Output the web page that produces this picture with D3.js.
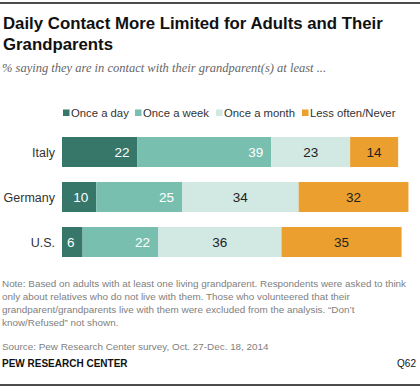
<!DOCTYPE html>
<html>
<head>
<meta charset="utf-8">
<script src="https://cdnjs.cloudflare.com/ajax/libs/d3/7.8.5/d3.min.js"></script>
<style>
  body { margin: 0; background: #fff; }
  svg text { font-family: "Liberation Sans", Arial, sans-serif; }
</style>
</head>
<body>
<svg id="chart" width="420" height="389"></svg>
<script>
// data
var countries = ["Italy", "Germany", "U.S."];
var categories = ["Once a day", "Once a week", "Once a month", "Less often/Never"];
var onceADay = [22, 10, 6];
var onceAWeek = [39, 25, 22];
var onceAMonth = [23, 34, 36];
var lessOften = [14, 32, 35];
var colors = ["#36776a", "#78bfb0", "#d1e8e3", "#eb9f2e"];
var labelColors = ["#fff", "#fff", "#222", "#222"];

var noteLines = [
    "Note: Based on adults with at least one living grandparent. Respondents were asked to think",
    "only about relatives who do not live with them. Those who volunteered that their",
    "grandparent/grandparents live with them were excluded from the analysis. \u201cDon\u2019t",
    "know/Refused\u201d not shown."
];

var svg = d3.select("#chart");
var W = 420;

var series = [onceADay, onceAWeek, onceAMonth, lessOften];

// top rule
svg.append("line")
    .attr("x1", 0).attr("x2", W).attr("y1", 3).attr("y2", 3)
    .attr("stroke", "#111").attr("stroke-width", 1.5);

svg.append("text")
    .attr("x", 3).attr("y", 29)
    .style("font-size", "16.8px").style("font-weight", "bold").attr("fill", "#111")
    .text("Daily Contact More Limited for Adults and Their");
svg.append("text")
    .attr("x", 3).attr("y", 50)
    .style("font-size", "16.8px").style("font-weight", "bold").attr("fill", "#111")
    .text("Grandparents");

svg.append("text")
    .attr("x", 2).attr("y", 72)
    .style("font-family", "'Liberation Serif', serif")
    .style("font-style", "italic").style("font-size", "12.5px")
    .attr("fill", "#666")
    .text("% saying they are in contact with their grandparent(s) at least ...");

// scales
var x = d3.scaleLinear().domain([0, 100]).range([62, 405]);
var y = d3.scaleBand().domain(countries).range([137, 257]).paddingInner(1 / 3).paddingOuter(0);

// legend
var legendX = [63, 135, 216, 302];
var legend = svg.append("g").selectAll("g")
    .data(categories)
    .enter().append("g")
    .attr("transform", function(d, i) { return "translate(" + legendX[i] + ",113)"; });
legend.append("rect")
    .attr("x", 0).attr("y", -3.5).attr("width", 6.5).attr("height", 6.5)
    .attr("fill", function(d, i) { return colors[i]; });
legend.append("text")
    .attr("x", 8).attr("y", 4)
    .style("font-size", "11.3px").attr("fill", "#333")
    .text(function(d) { return d; });

// stacked rows
var rows = countries.map(function(c, ci) {
    var start = 0;
    return series.map(function(s, si) {
        var seg = { country: c, k: si, x0: start, x1: start + s[ci], v: s[ci] };
        start += s[ci];
        return seg;
    });
});

var row = svg.append("g").selectAll("g")
    .data(rows)
    .enter().append("g");

row.selectAll("rect")
    .data(function(d) { return d; })
    .enter().append("rect")
    .attr("x", function(d) { return x(d.x0); })
    .attr("width", function(d) { return x(d.x1) - x(d.x0); })
    .attr("y", function(d) { return y(d.country); })
    .attr("height", y.bandwidth())
    .attr("fill", function(d) { return colors[d.k]; });

row.selectAll("text")
    .data(function(d) { return d; })
    .enter().append("text")
    .attr("x", function(d) {
        if (d.k < 2) return x(d.x1) - 8;
        return (x(d.x0) + x(d.x1)) / 2;
    })
    .attr("y", function(d) { return y(d.country) + y.bandwidth() / 2 + 5; })
    .attr("text-anchor", function(d) { return d.k < 2 ? "end" : "middle"; })
    .style("font-size", "13.5px")
    .attr("fill", function(d) { return labelColors[d.k]; })
    .text(function(d) { return d.v; });

// country labels
svg.append("g").selectAll("text")
    .data(countries)
    .enter().append("text")
    .attr("x", 55)
    .attr("y", function(d) { return y(d) + y.bandwidth() / 2 + 5; })
    .attr("text-anchor", "end")
    .style("font-size", "12.5px").attr("fill", "#333")
    .text(function(d) { return d; });

// notes
svg.append("g").selectAll("text")
    .data(noteLines)
    .enter().append("text")
    .attr("x", 2)
    .attr("y", function(d, i) { return 287 + i * 13; })
    .style("font-size", "9.9px").attr("fill", "#808080")
    .text(function(d) { return d; });

svg.append("text")
    .attr("x", 2).attr("y", 350)
    .style("font-size", "9.9px").attr("fill", "#808080")
    .text("Source: Pew Research Center survey, Oct. 27-Dec. 18, 2014");

svg.append("text")
    .attr("x", 2).attr("y", 367)
    .style("font-size", "10px").style("font-weight", "bold").attr("fill", "#111")
    .text("PEW RESEARCH CENTER");
svg.append("text")
    .attr("x", 416).attr("y", 367).attr("text-anchor", "end")
    .style("font-size", "10px").attr("fill", "#111")
    .text("Q62");

svg.append("line")
    .attr("x1", 0).attr("x2", W).attr("y1", 385).attr("y2", 385)
    .attr("stroke", "#111").attr("stroke-width", 1.5);
</script>
</body>
</html>
